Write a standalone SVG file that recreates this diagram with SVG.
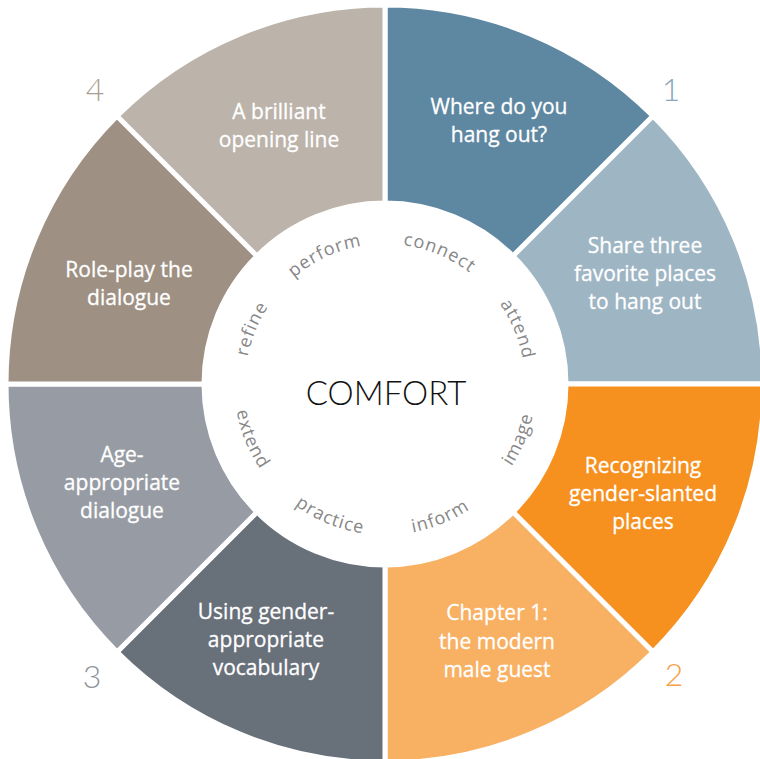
<svg xmlns="http://www.w3.org/2000/svg" xmlns:xlink="http://www.w3.org/1999/xlink" width="760" height="759" viewBox="0 0 760 759">
  <style>
    .seg { stroke: #ffffff; stroke-width: 5; stroke-linejoin: miter; }
    .lbl { font-family: "Open Sans", "Noto Sans", sans-serif; font-size: 21px; fill: #ffffff; stroke: #ffffff; stroke-width: 0.3px; text-anchor: middle; }
    .num { font-family: "Lato", "Open Sans", sans-serif; font-weight: 300; font-size: 32px; text-anchor: middle; }
    .word { font-family: "Open Sans", "Noto Sans", sans-serif; font-size: 18px; fill: #878787; letter-spacing: 1px; }
    .hub { font-family: "Lato", "Liberation Sans", sans-serif; font-weight: 300; font-size: 33px; fill: #111111; text-anchor: middle; }
  </style>
  <defs>
    <!-- arcs for the ring words: upper words run clockwise (r 140), lower words counter-clockwise (r 151) -->
    <path id="a-connect" d="M 342.9 250.5 A 140 140 0 0 1 509.2 319.4"/>
    <path id="a-attend" d="M 449.6 259.8 A 140 140 0 0 1 518.5 426.1"/>
    <path id="a-image" d="M 454.7 517.9 A 151 151 0 0 0 529.0 338.6"/>
    <path id="a-inform" d="M 339.6 528.0 A 151 151 0 0 0 518.9 453.7"/>
    <path id="a-practice" d="M 251.1 453.7 A 151 151 0 0 0 430.4 528.0"/>
    <path id="a-extend" d="M 241.0 338.6 A 151 151 0 0 0 315.3 517.9"/>
    <path id="a-refine" d="M 251.5 426.1 A 140 140 0 0 1 320.4 259.8"/>
    <path id="a-perform" d="M 258.1 324.8 A 140 140 0 0 1 421.2 248.8"/>
  </defs>

  <!-- segment 1 -->
  <g id="node-hangout">
    <path class="seg" fill="#5e87a1" d="M 385 203 L 385 5 A 379 379 0 0 1 653 116 L 513 256 A 181 181 0 0 0 385 203 Z"/>
    <text class="lbl" x="499" y="114">Where do you</text>
    <text class="lbl" x="499" y="142">hang out?</text>
  </g>
  <g id="node-share">
    <path class="seg" fill="#9eb5c4" d="M 513 256 L 653 116 A 379 379 0 0 1 764 384 L 566 384 A 181 181 0 0 0 513 256 Z"/>
    <text class="lbl" x="645" y="253">Share three</text>
    <text class="lbl" x="645" y="281">favorite places</text>
    <text class="lbl" x="645" y="309">to hang out</text>
  </g>
  <!-- segment 2 -->
  <g id="node-recognizing">
    <path class="seg" fill="#f6901f" d="M 566 384 L 764 384 A 379 379 0 0 1 653 652 L 513 512 A 181 181 0 0 0 566 384 Z"/>
    <text class="lbl" x="643" y="473">Recognizing</text>
    <text class="lbl" x="643" y="501">gender-slanted</text>
    <text class="lbl" x="643" y="529">places</text>
  </g>
  <g id="node-chapter">
    <path class="seg" fill="#f8b062" d="M 513 512 L 653 652 A 379 379 0 0 1 385 763 L 385 565 A 181 181 0 0 0 513 512 Z"/>
    <text class="lbl" x="497" y="620">Chapter 1:</text>
    <text class="lbl" x="497" y="649">the modern</text>
    <text class="lbl" x="497" y="677">male guest</text>
  </g>
  <!-- segment 3 -->
  <g id="node-vocabulary">
    <path class="seg" fill="#68707a" d="M 385 565 L 385 763 A 379 379 0 0 1 117 652 L 257 512 A 181 181 0 0 0 385 565 Z"/>
    <text class="lbl" x="266" y="619">Using gender-</text>
    <text class="lbl" x="266" y="647">appropriate</text>
    <text class="lbl" x="266" y="675">vocabulary</text>
  </g>
  <g id="node-age">
    <path class="seg" fill="#979ca4" d="M 257 512 L 117 652 A 379 379 0 0 1 6 384 L 204 384 A 181 181 0 0 0 257 512 Z"/>
    <text class="lbl" x="122" y="462">Age-</text>
    <text class="lbl" x="122" y="490">appropriate</text>
    <text class="lbl" x="122" y="518">dialogue</text>
  </g>
  <!-- segment 4 -->
  <g id="node-roleplay">
    <path class="seg" fill="#9e9083" d="M 204 384 L 6 384 A 379 379 0 0 1 117 116 L 257 256 A 181 181 0 0 0 204 384 Z"/>
    <text class="lbl" x="129" y="277">Role-play the</text>
    <text class="lbl" x="129" y="305">dialogue</text>
  </g>
  <g id="node-opening">
    <path class="seg" fill="#bcb3aa" d="M 257 256 L 117 116 A 379 379 0 0 1 385 5 L 385 203 A 181 181 0 0 0 257 256 Z"/>
    <text class="lbl" x="279" y="119">A brilliant</text>
    <text class="lbl" x="279" y="147">opening line</text>
  </g>

  <!-- step numbers -->
  <g id="numbers">
    <text class="num" x="671" y="101" fill="#8ba6b8">1</text>
    <text class="num" x="674" y="686" fill="#f7a048">2</text>
    <text class="num" x="92" y="688" fill="#8f949c">3</text>
    <text class="num" x="95" y="101" fill="#aa9e92">4</text>
  </g>

  <!-- hub -->
  <g id="node-comfort">
    <circle cx="385" cy="384" r="181" fill="#ffffff"/>
    <text class="hub" x="386" y="405">COMFORT</text>
    <text class="word"><textPath xlink:href="#a-connect" startOffset="50%" text-anchor="middle">connect</textPath></text>
    <text class="word"><textPath xlink:href="#a-attend" startOffset="50%" text-anchor="middle">attend</textPath></text>
    <text class="word"><textPath xlink:href="#a-image" startOffset="50%" text-anchor="middle">image</textPath></text>
    <text class="word"><textPath xlink:href="#a-inform" startOffset="50%" text-anchor="middle">inform</textPath></text>
    <text class="word"><textPath xlink:href="#a-practice" startOffset="50%" text-anchor="middle">practice</textPath></text>
    <text class="word"><textPath xlink:href="#a-extend" startOffset="50%" text-anchor="middle">extend</textPath></text>
    <text class="word"><textPath xlink:href="#a-refine" startOffset="50%" text-anchor="middle">refine</textPath></text>
    <text class="word"><textPath xlink:href="#a-perform" startOffset="50%" text-anchor="middle">perform</textPath></text>
  </g>
</svg>
